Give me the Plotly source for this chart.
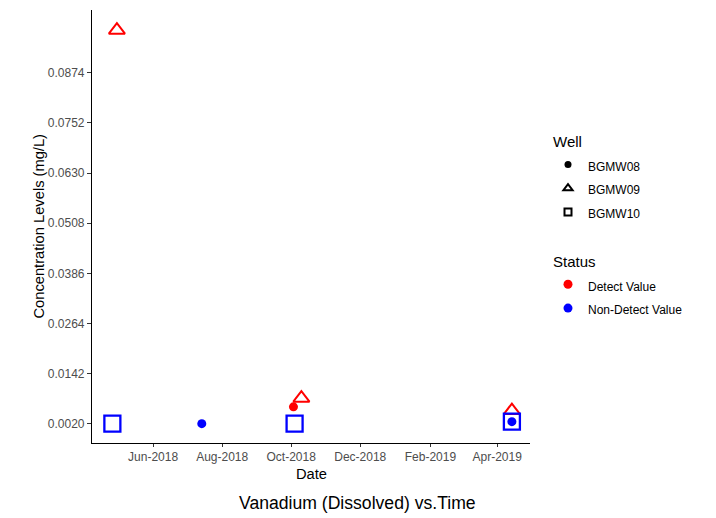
import plotly.graph_objects as go

# ---- data ----
wells = ["BGMW08", "BGMW09", "BGMW10"]
bgmw08_dates = ["2018-07-14", "2018-10-03", "2019-04-14"]
bgmw08_values = [0.0020, 0.0061, 0.0025]
bgmw08_status = ["Non-Detect Value", "Detect Value", "Non-Detect Value"]

bgmw09_dates = ["2018-04-30", "2018-10-10", "2019-04-14"]
bgmw09_values = [0.0978, 0.0082, 0.0052]
bgmw09_status = ["Detect Value", "Detect Value", "Detect Value"]

bgmw10_dates = ["2018-04-26", "2018-10-04", "2019-04-14"]
bgmw10_values = [0.0020, 0.0020, 0.0025]
bgmw10_status = ["Non-Detect Value", "Non-Detect Value", "Non-Detect Value"]

status_levels = ["Detect Value", "Non-Detect Value"]
status_colors = {"Detect Value": "#FF0000", "Non-Detect Value": "#0000FF"}

y_ticks = [0.0020, 0.0142, 0.0264, 0.0386, 0.0508, 0.0630, 0.0752, 0.0874]
x_ticks = ["2018-06-01", "2018-08-01", "2018-10-01", "2018-12-01", "2019-02-01", "2019-04-01"]
x_ticklabels = ["Jun-2018", "Aug-2018", "Oct-2018", "Dec-2018", "Feb-2019", "Apr-2019"]

title_text = "Vanadium (Dissolved) vs.Time"

fig = go.Figure()

# data traces: triangles, squares, then dots (drawing order)
fig.add_trace(go.Scatter(
    x=bgmw09_dates, y=bgmw09_values, mode="markers", showlegend=False,
    marker=dict(symbol="triangle-up-open", size=14,
                color=[status_colors[s] for s in bgmw09_status],
                line=dict(width=2)),
))
fig.add_trace(go.Scatter(
    x=bgmw10_dates, y=bgmw10_values, mode="markers", showlegend=False,
    marker=dict(symbol="square-open", size=16,
                color=[status_colors[s] for s in bgmw10_status],
                line=dict(width=2.3)),
))
fig.add_trace(go.Scatter(
    x=bgmw08_dates, y=bgmw08_values, mode="markers", showlegend=False,
    marker=dict(symbol="circle", size=9,
                color=[status_colors[s] for s in bgmw08_status],
                line=dict(width=0)),
))

# legend entries
def lbl(t):
    return '<span style="font-size:12px">' + t + '</span>'

well_symbols = {"BGMW08": ("circle", 7, 0), "BGMW09": ("triangle-up-open", 8, 2), "BGMW10": ("square-open", 7, 2)}
for i, w in enumerate(wells):
    sym, sz, lw = well_symbols[w]
    fig.add_trace(go.Scatter(
        x=[None], y=[None], mode="markers", name=lbl(w),
        legendgroup="well", legendgrouptitle=dict(text="Well", font=dict(size=15, color="black")),
        marker=dict(symbol=sym, size=sz, color="black", line=dict(width=lw, color="black")),
    ))
for s in status_levels:
    fig.add_trace(go.Scatter(
        x=[None], y=[None], mode="markers", name=lbl(s),
        legendgroup="status", legendgrouptitle=dict(text="Status", font=dict(size=15, color="black")),
        marker=dict(symbol="circle", size=9, color=status_colors[s]),
    ))

L, R, T, B = 92, 186, 10, 75
W, H = 716, 518
pw, ph = W - L - R, H - T - B

def px_x(p):
    return (p - L) / pw

def px_y(p):
    return (H - B - p) / ph

fig.update_layout(
    width=W, height=H,
    margin=dict(l=L, r=R, t=T, b=B),
    paper_bgcolor="white", plot_bgcolor="white",
    font=dict(family="Liberation Sans, Arial, sans-serif", color="black"),
    showlegend=True,
    legend=dict(
        x=px_x(548), xanchor="left", y=px_y(125), yanchor="top",
        font=dict(size=16, color="black"),
        tracegroupgap=26, bgcolor="rgba(0,0,0,0)",
        itemclick=False, itemdoubleclick=False,
    ),
    xaxis=dict(
        type="date", range=["2018-04-08", "2019-04-30"],
        tickvals=x_ticks, ticktext=x_ticklabels,
        showgrid=False, zeroline=False,
        showline=True, linecolor="black", linewidth=1.1,
        ticks="outside", ticklen=3, tickwidth=1.1, tickcolor="#333333",
        tickfont=dict(size=12, color="#4D4D4D"),
    ),
    yaxis=dict(
        range=[-0.0027, 0.1027],
        tickvals=y_ticks, ticktext=["%.4f" % v for v in y_ticks],
        showgrid=False, zeroline=False,
        showline=True, linecolor="black", linewidth=1.1,
        ticks="outside", ticklen=4, tickwidth=1.1, tickcolor="#333333",
        tickfont=dict(size=12, color="#4D4D4D"),
    ),
    annotations=[
        dict(text="Date", xref="paper", yref="paper", x=0.5, y=px_y(474),
             xanchor="center", yanchor="middle", showarrow=False,
             font=dict(size=14.7, color="black")),
        dict(text="Concentration Levels (mg/L)", xref="paper", yref="paper",
             x=px_x(38), y=0.5, textangle=-90,
             xanchor="center", yanchor="middle", showarrow=False,
             font=dict(size=14.7, color="black")),
        dict(text=title_text, xref="paper", yref="paper", x=px_x(357), y=px_y(503),
             xanchor="center", yanchor="middle", showarrow=False,
             font=dict(size=17.6, color="black")),
    ],
)

fig.write_html("out.html")
